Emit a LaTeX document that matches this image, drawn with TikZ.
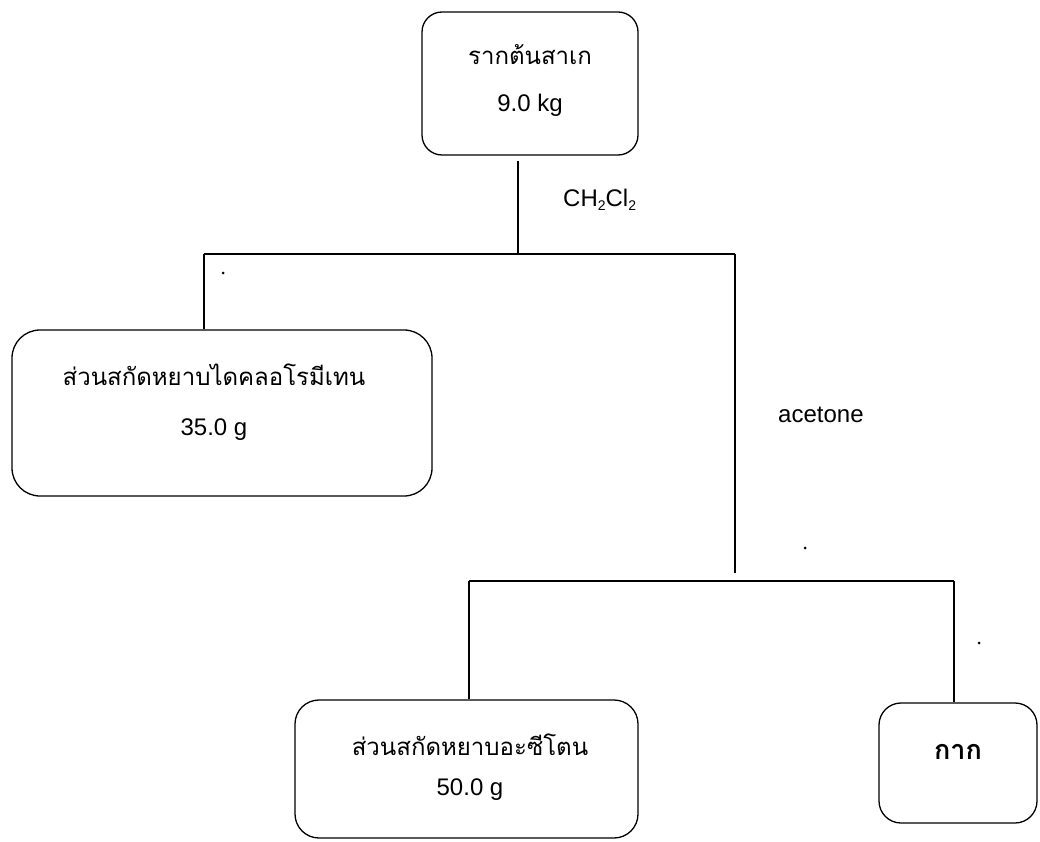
\documentclass[tikz,border=0pt]{standalone}
\usepackage{fontspec}
\setmainfont{Liberation Sans}
\newfontfamily\thaifont[Script=Thai]{Loma}
\begin{document}
\begin{tikzpicture}[x=1pt,y=-1pt,
  box/.style={draw, line width=1.3pt, inner sep=0pt},
  conn/.style={line width=1.8pt},
  txt/.style={font=\fontsize{24}{28}\selectfont, inner sep=0pt},
  thai/.style={font=\thaifont\fontsize{24}{28}\selectfont, inner sep=0pt},
  speck/.style={fill=black, inner sep=0pt, minimum size=3pt, circle}]
\useasboundingbox (0,0) rectangle (1040,842);
% boxes
\node[box, rounded corners=20pt, minimum width=216pt, minimum height=143pt] (root) at (530,83.5) {};
\node[box, rounded corners=28pt, minimum width=420pt, minimum height=166pt] (dcm) at (222,413) {};
\node[box, rounded corners=24pt, minimum width=343pt, minimum height=138pt] (ace) at (466.5,769) {};
\node[box, rounded corners=22pt, minimum width=158pt, minimum height=120pt] (res) at (958,763) {};
% texts
\node[thai] (rootA) at (530,55) {รากต้นสาเก};
\node[txt] (rootB) at (530,105) {9.0 kg};
\node[thai] (dcmA) at (214,375) {ส่วนสกัดหยาบไดคลอโรมีเทน};
\node[txt] (dcmB) at (214,430) {35.0 g};
\node[thai] (aceA) at (470,745) {ส่วนสกัดหยาบอะซีโตน};
\node[txt] (aceB) at (470,790) {50.0 g};
\node[font=\thaifont\bfseries\fontsize{27}{30}\selectfont, inner sep=0pt] (resA) at (958,752) {กาก};
\node[txt, anchor=west] (solv1) at (563,200) {CH\raisebox{-4pt}{\fontsize{14}{16}\selectfont 2}Cl\raisebox{-4pt}{\fontsize{14}{16}\selectfont 2}};
\node[txt, anchor=west] (solv2) at (778,415) {acetone};
% junction coordinates
\coordinate (j1) at (518,254);
\coordinate (j1l) at (204,254);
\coordinate (j1r) at (735,254);
\coordinate (j2) at (735,573);
\coordinate (j2l) at (469,581);
\coordinate (j2r) at (954,581);
% connectors
\draw[conn] (root.south -| j1) ++(0,5) -- (j1);
\draw[conn] (j1l) -- (j1r);
\draw[conn] (j1l) -- (j1l |- dcm.north);
\draw[conn] (j1r) -- (j2);
\draw[conn] (j2l) -- (j2r);
\draw[conn] (j2l) -- (j2l |- ace.north);
\draw[conn] (j2r) -- (j2r |- res.north);
% specks
\node[speck] (s1) at (223,273) {};
\node[speck] (s2) at (805,548) {};
\node[speck] (s3) at (979,643) {};
\end{tikzpicture}
\end{document}
